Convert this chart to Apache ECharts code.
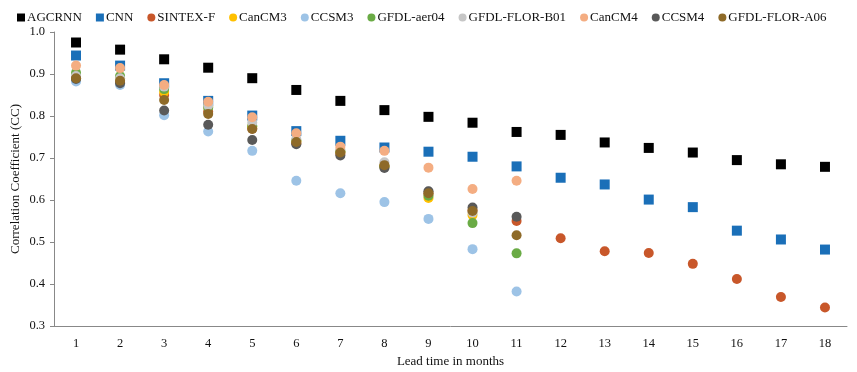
<!DOCTYPE html>
<html>
<head>
<meta charset="utf-8">
<script src="https://cdn.jsdelivr.net/npm/echarts@6/dist/echarts.min.js"></script>
<style>html,body{margin:0;padding:0;background:#fff}#c{width:857px;height:372px}</style>
</head>
<body>
<div id="c"></div>
<script>
const months = ['1','2','3','4','5','6','7','8','9','10','11','12','13','14','15','16','17','18'];
const AGCRNN = [0.975,0.958,0.935,0.915,0.890,0.862,0.836,0.814,0.798,0.784,0.762,0.755,0.737,0.724,0.713,0.695,0.685,0.679];
const CNN = [0.944,0.920,0.878,0.836,0.801,0.764,0.741,0.725,0.715,0.703,0.680,0.653,0.637,0.601,0.583,0.527,0.506,0.482];
const SINTEX_F = [0.890,0.880,0.850,0.810,0.770,0.735,0.710,0.680,0.615,0.575,0.550,0.509,0.478,0.474,0.448,0.412,0.369,0.344];
const CanCM3 = [0.890,0.890,0.857,0.822,0.775,0.740,0.715,0.680,0.605,0.564];
const CCSM3 = [0.882,0.874,0.802,0.763,0.717,0.646,0.616,0.595,0.555,0.483,0.382];
const GFDL_aer04 = [0.903,0.895,0.864,0.820,0.776,0.742,0.716,0.680,0.610,0.545,0.473];
const GFDL_FLOR_B01 = [0.895,0.890,0.870,0.825,0.784,0.745,0.720,0.690,0.620,0.570];
const CanCM4 = [0.920,0.914,0.874,0.834,0.797,0.759,0.727,0.717,0.677,0.626,0.646];
const CCSM4 = [0.888,0.878,0.813,0.779,0.743,0.733,0.706,0.676,0.621,0.582,0.560];
const GFDL_FLOR_A06 = [0.890,0.884,0.838,0.805,0.769,0.738,0.713,0.683,0.616,0.574,0.516];

const seriesDefs = [
  ['AGCRNN', AGCRNN, 'rect', '#000000'],
  ['CNN', CNN, 'rect', '#1a6fb8'],
  ['SINTEX-F', SINTEX_F, 'circle', '#c8572a'],
  ['CanCM3', CanCM3, 'circle', '#ffc000'],
  ['CCSM3', CCSM3, 'circle', '#9dc3e6'],
  ['GFDL-aer04', GFDL_aer04, 'circle', '#6aab45'],
  ['GFDL-FLOR-B01', GFDL_FLOR_B01, 'circle', '#c6c6c6'],
  ['CanCM4', CanCM4, 'circle', '#f4ad82'],
  ['CCSM4', CCSM4, 'circle', '#595959'],
  ['GFDL-FLOR-A06', GFDL_FLOR_A06, 'circle', '#8e6a28']
];

const font = '"Liberation Serif", "Times New Roman", serif';
const chart = echarts.init(document.getElementById('c'), null, {renderer:'canvas'});
chart.setOption({
  animation: false,
  backgroundColor: '#fff',
  textStyle: {fontFamily: font},
  legend: {
    top: 6, left: 12,
    itemWidth: 8, itemHeight: 8, itemGap: 14,
    textStyle: {fontFamily: font, fontSize: 13, color: '#111', padding: [0,0,0,-3]},
    data: seriesDefs.map(d => ({name: d[0], icon: d[2]}))
  },
  grid: {left: 54, top: 32, right: 10, bottom: 46, outerBoundsMode: 'none', containLabel: false},
  xAxis: {
    type: 'category', data: months, boundaryGap: true,
    name: 'Lead time in months', nameLocation: 'middle', nameGap: 29,
    nameMoveOverlap: false,
    nameTextStyle: {fontFamily: font, fontSize: 13, color: '#111'},
    axisLine: {lineStyle: {color: '#888', width: 1}},
    axisTick: {alignWithLabel: true, length: 4, lineStyle: {color: '#888'}},
    axisLabel: {fontFamily: font, fontSize: 12.5, color: '#111', margin: 11},
    splitLine: {show: false}
  },
  yAxis: {
    type: 'value', min: 0.3, max: 1.0, interval: 0.1,
    name: 'Correlation Coefficient (CC)', nameLocation: 'middle', nameGap: 32,
    nameMoveOverlap: false,
    nameTextStyle: {fontFamily: font, fontSize: 13, color: '#111'},
    axisLine: {show: true, lineStyle: {color: '#888', width: 1}},
    axisTick: {show: true, length: 4, lineStyle: {color: '#888'}},
    axisLabel: {fontFamily: font, fontSize: 12.5, color: '#111', margin: 9,
      formatter: v => v.toFixed(1)},
    splitLine: {show: false}
  },
  series: seriesDefs.map(d => ({
    name: d[0], type: 'scatter', data: d[1], symbol: d[2],
    symbolSize: 10,
    itemStyle: {color: d[3], opacity: 1}
  }))
});
</script>
</body>
</html>
